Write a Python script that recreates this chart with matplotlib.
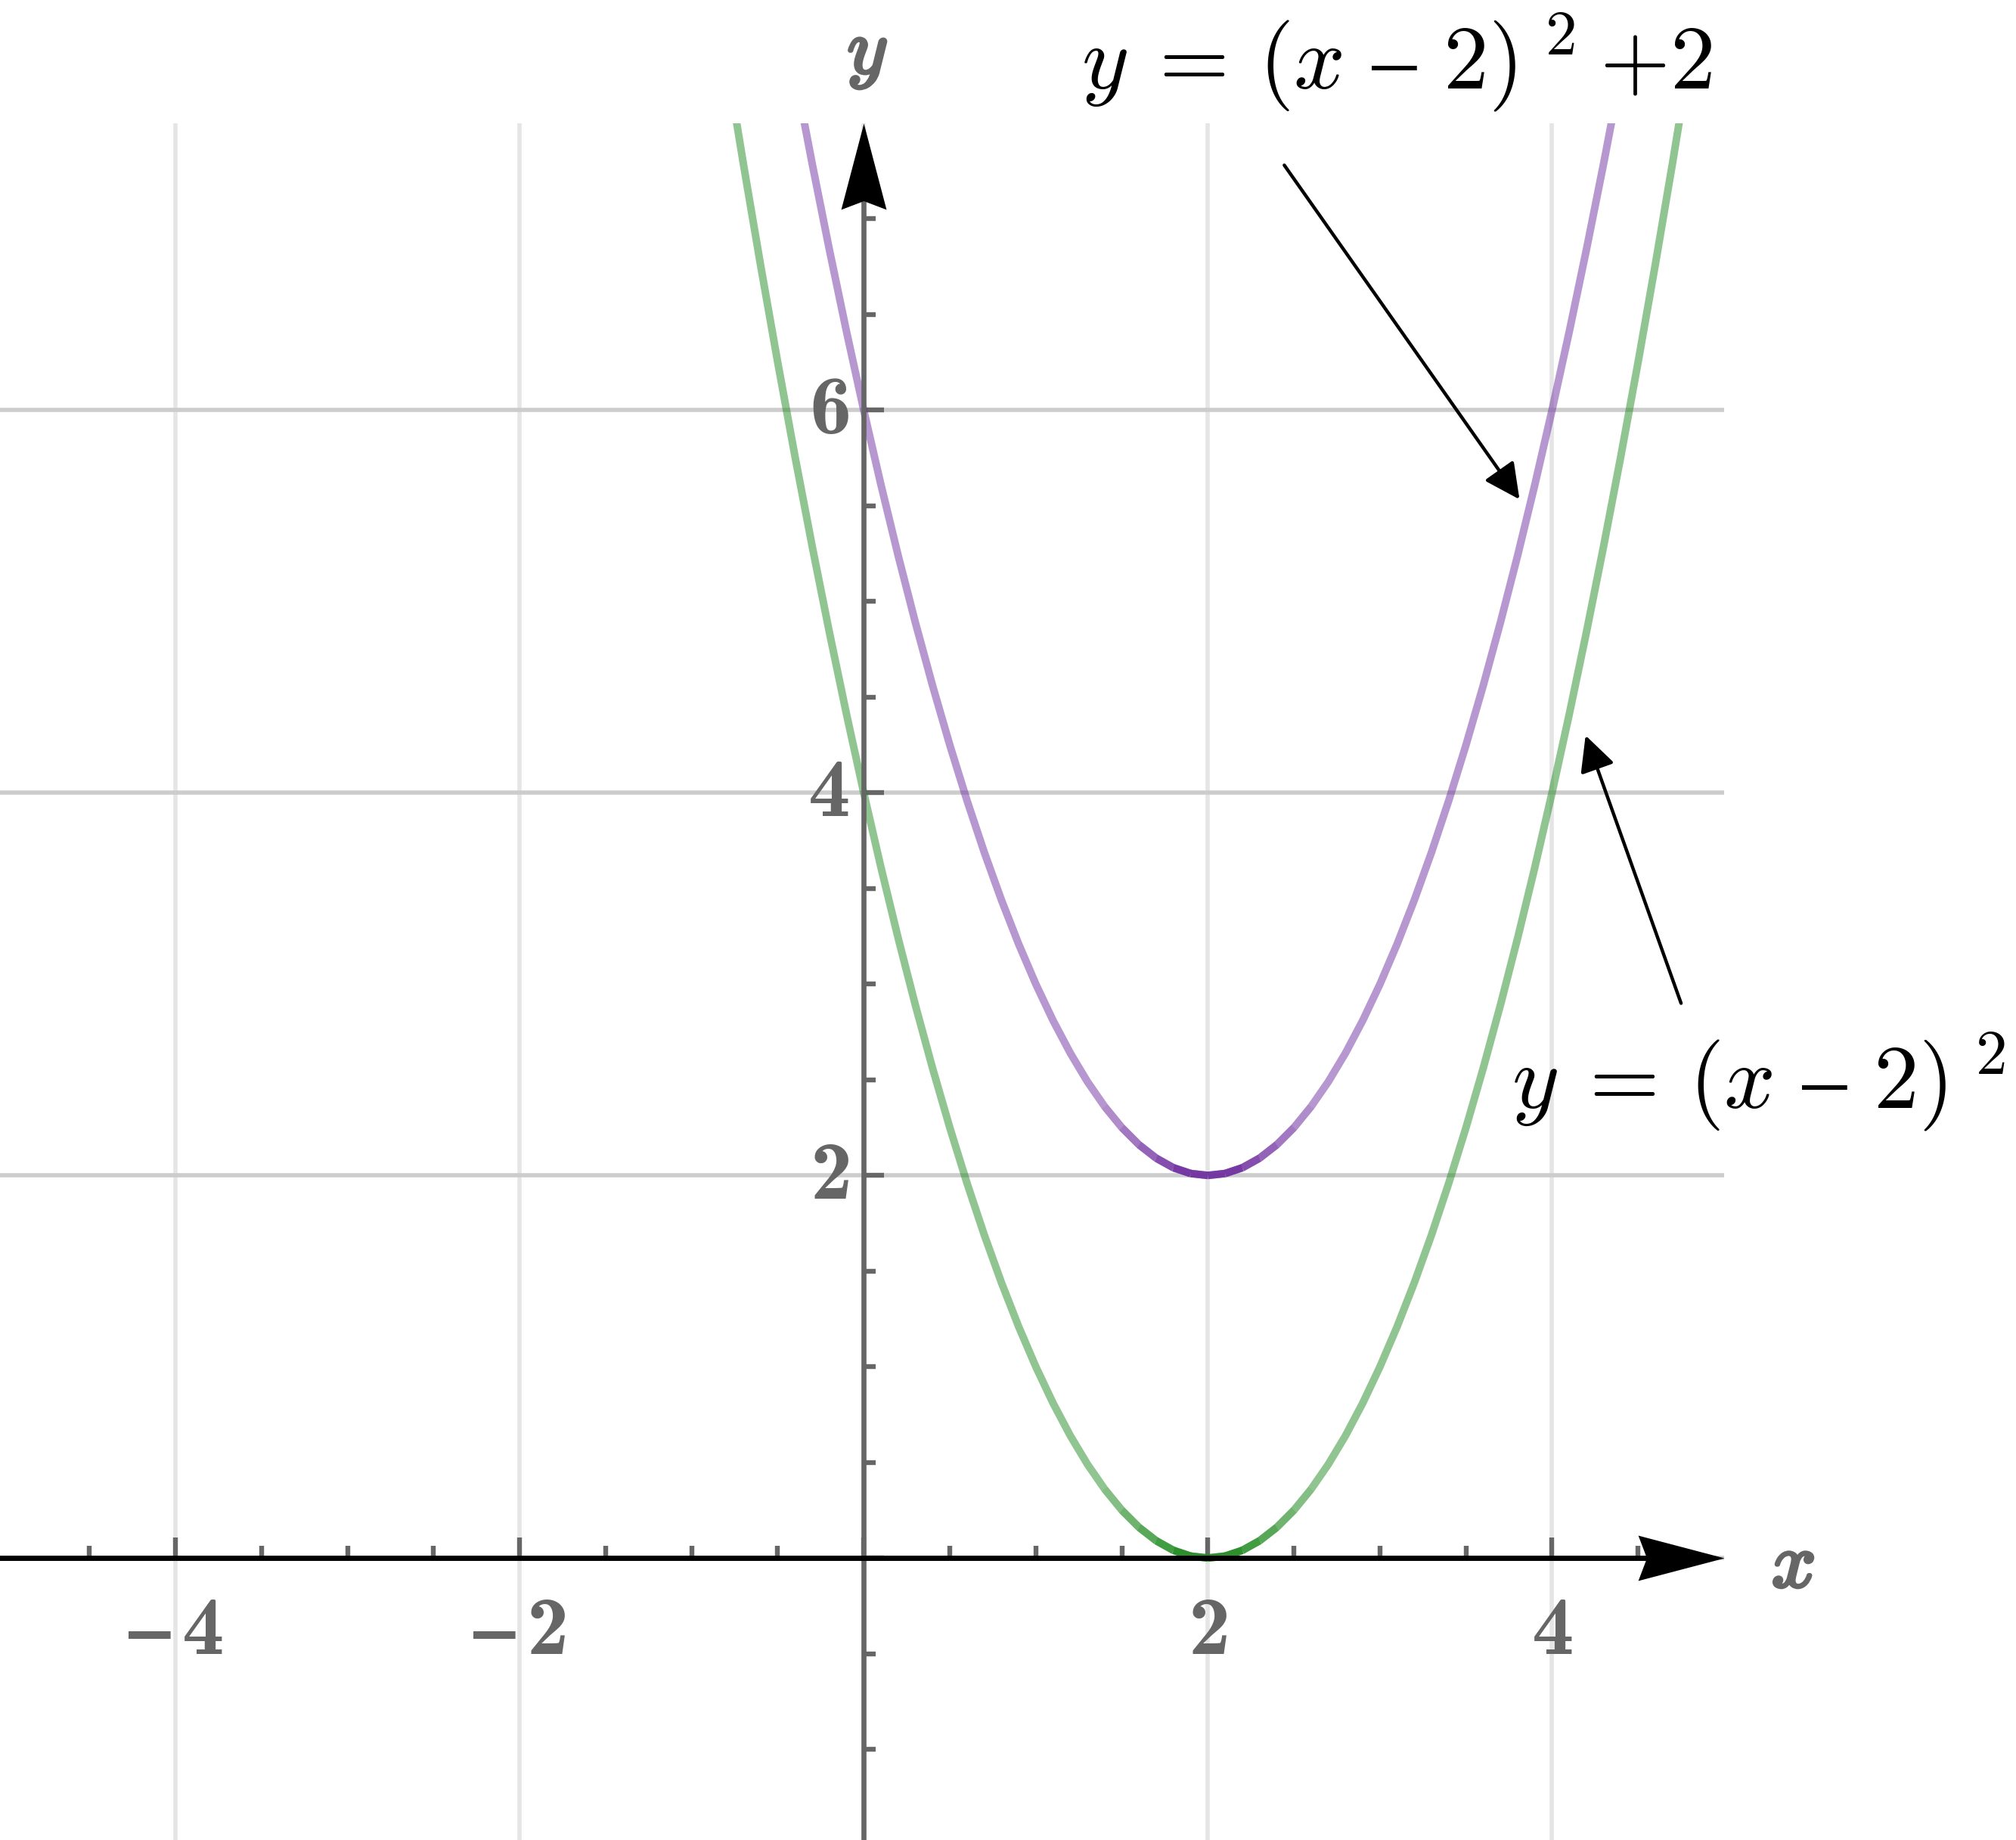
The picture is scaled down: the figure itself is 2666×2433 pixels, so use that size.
import numpy as np
import matplotlib.pyplot as plt
from matplotlib.path import Path
from matplotlib.collections import LineCollection
from matplotlib.colors import to_rgb
from matplotlib.ticker import FixedLocator
import matplotlib.patheffects as pe

# bold Computer Modern digits for the tick labels
plt.rcParams['mathtext.fontset'] = 'custom'
plt.rcParams['mathtext.bf'] = 'cmb10'
plt.rcParams['mathtext.rm'] = 'cmr10'
plt.rcParams['mathtext.it'] = 'cmmi10'

# y = (x - 2)^2  (green)
green_x = [-0.8, -0.7, -0.6, -0.5, -0.4, -0.3, -0.2, -0.1, 0.0, 0.1, 0.2, 0.3,
           0.4, 0.5, 0.6, 0.7, 0.8, 0.9, 1.0, 1.1, 1.2, 1.3, 1.4, 1.5, 1.6,
           1.7, 1.8, 1.9, 2.0, 2.1, 2.2, 2.3, 2.4, 2.5, 2.6, 2.7, 2.8, 2.9,
           3.0, 3.1, 3.2, 3.3, 3.4, 3.5, 3.6, 3.7, 3.8, 3.9, 4.0, 4.1, 4.2,
           4.3, 4.4, 4.5, 4.6, 4.7, 4.8]
green_y = [7.84, 7.29, 6.76, 6.25, 5.76, 5.29, 4.84, 4.41, 4.00, 3.61, 3.24,
           2.89, 2.56, 2.25, 1.96, 1.69, 1.44, 1.21, 1.00, 0.81, 0.64, 0.49,
           0.36, 0.25, 0.16, 0.09, 0.04, 0.01, 0.00, 0.01, 0.04, 0.09, 0.16,
           0.25, 0.36, 0.49, 0.64, 0.81, 1.00, 1.21, 1.44, 1.69, 1.96, 2.25,
           2.56, 2.89, 3.24, 3.61, 4.00, 4.41, 4.84, 5.29, 5.76, 6.25, 6.76,
           7.29, 7.84]

# y = (x - 2)^2 + 2  (purple)
purple_x = [-0.4, -0.3, -0.2, -0.1, 0.0, 0.1, 0.2, 0.3, 0.4, 0.5, 0.6, 0.7,
            0.8, 0.9, 1.0, 1.1, 1.2, 1.3, 1.4, 1.5, 1.6, 1.7, 1.8, 1.9, 2.0,
            2.1, 2.2, 2.3, 2.4, 2.5, 2.6, 2.7, 2.8, 2.9, 3.0, 3.1, 3.2, 3.3,
            3.4, 3.5, 3.6, 3.7, 3.8, 3.9, 4.0, 4.1, 4.2, 4.3, 4.4]
purple_y = [7.76, 7.29, 6.84, 6.41, 6.00, 5.61, 5.24, 4.89, 4.56, 4.25, 3.96,
            3.69, 3.44, 3.21, 3.00, 2.81, 2.64, 2.49, 2.36, 2.25, 2.16, 2.09,
            2.04, 2.01, 2.00, 2.01, 2.04, 2.09, 2.16, 2.25, 2.36, 2.49, 2.64,
            2.81, 3.00, 3.21, 3.44, 3.69, 3.96, 4.25, 4.56, 4.89, 5.24, 5.61,
            6.00, 6.41, 6.84, 7.29, 7.76]

x_major = [-4, -2, 0, 2, 4]
x_labels = [r'$\mathbf{–\,4}$', r'$\mathbf{–\,2}$', '', r'$\mathbf{2}$', r'$\mathbf{4}$']
x_minor = [-4.5, -3.5, -3, -2.5, -1.5, -1, -0.5, 0.5, 1, 1.5, 2.5, 3, 3.5, 4.5]
y_major = [0, 2, 4, 6]
y_labels = ['', r'$\mathbf{2}$', r'$\mathbf{4}$', r'$\mathbf{6}$']
y_minor = [-1, -0.5, 0.5, 1, 1.5, 2.5, 3, 3.5, 4.5, 5, 5.5, 6.5, 7]

label_top = r'$y\:=\,(x\ \mathrm{–}\ 2)\:{}^{2}\:{+}2$'
label_bottom = r'$y\:=\,(x\ \mathrm{–}\ 2)\:{}^{2}$'

GREEN = '#228B22'
PURPLE = '#7030A0'
GRAY = '#666666'
LW = 3.6


def curve(ax, xs, ys, color):
    ax.plot(xs, ys, color=color, alpha=0.5, lw=LW, solid_capstyle='butt', zorder=2)
    # darker band around the vertex, like the original rendering
    pts = np.column_stack([xs, ys])
    segs = np.stack([pts[:-1], pts[1:]], axis=1)
    mid = (np.array(xs[:-1]) + np.array(xs[1:])) / 2
    a = np.clip(1 - (np.abs(mid - 2) - 0.15) / 0.45, 0, 1) * 0.9
    cols = [(*to_rgb(color), v) for v in a]
    ax.add_collection(LineCollection(segs, colors=cols, linewidths=LW,
                                     capstyle='butt', zorder=2.1))


fig = plt.figure(figsize=(13.33, 12.165), dpi=200)
ax = fig.add_axes([0, 0, 0.8552, 0.933])
ax.set_xlim(-5.02, 5.0)
ax.set_ylim(-1.474, 7.5)

curve(ax, green_x, green_y, GREEN)
curve(ax, purple_x, purple_y, PURPLE)

# axes through the origin
for s in ['top', 'right']:
    ax.spines[s].set_visible(False)
ax.spines['bottom'].set_position(('data', 0))
ax.spines['left'].set_position(('data', 0))
ax.spines['bottom'].set_color('black')
ax.spines['bottom'].set_linewidth(2.5)
ax.spines['left'].set_color(GRAY)
ax.spines['left'].set_linewidth(2.4)
ax.spines['bottom'].set_bounds(-5.02, 4.7)
ax.spines['left'].set_bounds(-1.474, 7.2)

ax.xaxis.set_major_locator(FixedLocator(x_major))
ax.xaxis.set_ticklabels(x_labels)
ax.xaxis.set_minor_locator(FixedLocator(x_minor))
ax.yaxis.set_major_locator(FixedLocator(y_major))
ax.yaxis.set_ticklabels(y_labels, va='center')
ax.yaxis.set_minor_locator(FixedLocator(y_minor))

ax.tick_params(which='both', direction='in', color=GRAY, width=2.3,
               labelcolor=GRAY, labelsize=40)
ax.tick_params(which='major', length=9.7)
ax.tick_params(which='minor', length=5.8)
ax.tick_params(axis='x', pad=15.5)
ax.tick_params(axis='y', pad=7)

ax.grid(axis='x', color='#e5e5e5', lw=2)
ax.grid(axis='y', color='#cccccc', lw=2)
ax.set_axisbelow(True)

# arrow heads at the ends of the axes
head_x = Path([(0, 0), (-1, 0.263), (-0.9, 0), (-1, -0.263), (0, 0)],
              [Path.MOVETO, Path.LINETO, Path.LINETO, Path.LINETO, Path.CLOSEPOLY])
head_y = Path([(0, 0), (0.263, -1), (0, -0.9), (-0.263, -1), (0, 0)],
              [Path.MOVETO, Path.LINETO, Path.LINETO, Path.LINETO, Path.CLOSEPOLY])
ax.plot([1], [0], transform=ax.get_yaxis_transform(), marker=head_x, ms=82,
        mew=0, color='black', clip_on=False, zorder=5)
ax.plot([0], [1], transform=ax.get_xaxis_transform(), marker=head_y, ms=82,
        mew=0, color='black', clip_on=False, zorder=5)

stroke = [pe.withStroke(linewidth=1.6, foreground=GRAY)]
ax.text(5.4, -0.04, r'$x$', fontsize=37, color=GRAY, ha='center', va='center',
        path_effects=stroke, math_fontfamily='cm')
ax.text(0.02, 7.87, r'$y$', fontsize=37, color=GRAY, ha='center', va='center',
        path_effects=stroke, math_fontfamily='cm')

# labels with arrows
arrow = dict(arrowstyle='-|>,head_length=14.4,head_width=7.2', color='black',
             lw=1.6, shrinkA=0, shrinkB=0, mutation_scale=1)
ax.annotate('', xy=(3.811, 5.534), xytext=(2.444, 7.281), arrowprops=arrow)
ax.annotate('', xy=(4.195, 4.30), xytext=(4.75, 2.90), arrowprops=arrow)
ax.text(3.10, 7.68, label_top, fontsize=43, ha='center', va='baseline',
        math_fontfamily='cm')
ax.text(5.20, 2.352, label_bottom, fontsize=43, ha='center', va='baseline',
        math_fontfamily='cm')

fig.savefig('out.png', dpi=200)
